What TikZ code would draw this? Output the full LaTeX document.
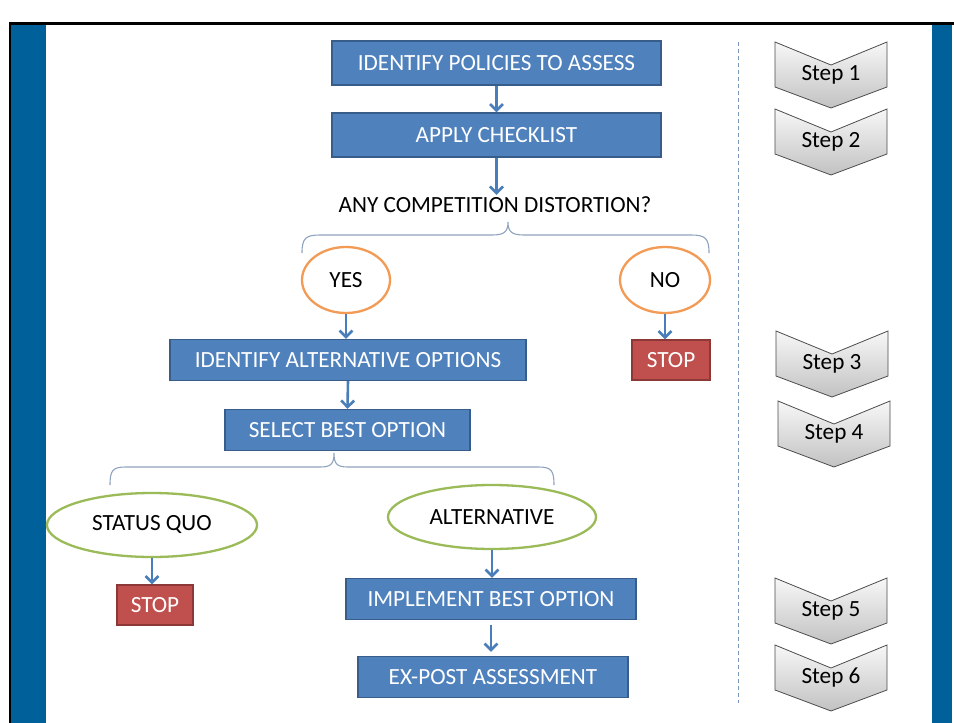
\documentclass[tikz,border=0pt]{standalone}
\usepackage{fontspec}
\setmainfont{Carlito}
\usetikzlibrary{arrows.meta,shapes.geometric}
\definecolor{boxblue}{HTML}{4F81BD}
\definecolor{boxedge}{HTML}{385D8A}
\definecolor{stopred}{HTML}{C0504D}
\definecolor{stopedge}{HTML}{8C3836}
\definecolor{ellorange}{HTML}{F39A55}
\definecolor{ellgreen}{HTML}{9BBB59}
\definecolor{bracecol}{HTML}{8FA3BF}
\definecolor{arrowblue}{HTML}{4A7EBB}
\definecolor{dashcol}{HTML}{7A96B8}
\definecolor{barblue}{HTML}{00609A}
\begin{document}
\begin{tikzpicture}[x=1pt,y=-1pt,
  txt/.style={font=\fontsize{23.2}{27}\selectfont},
  box/.style={txt, draw=boxedge, fill=boxblue, line width=1.3pt, text=white, inner sep=0pt, minimum height=41pt},
  stopbox/.style={txt, draw=stopedge, fill=stopred, line width=1.3pt, text=white, inner sep=0pt, minimum height=40pt},
  oval/.style={txt, ellipse, draw, fill=white, line width=2.3pt, inner sep=0pt},
  arr/.style={draw=arrowblue, line width=2.6pt, -{Straight Barb[length=6.5pt,width=13pt]}},
  brace/.style={draw=bracecol, line width=1.1pt},
  chev/.style={draw=gray!60!black, line width=0.8pt, top color=gray!6, bottom color=gray!48},
  steptxt/.style={txt, inner sep=0pt}]
\useasboundingbox (0,0) rectangle (954,723);
% frame
\fill[white] (0,0) rectangle (954,723);
\fill[black] (9,22) rectangle (954,25);
\fill[black] (9,22) rectangle (11,723);
\fill[barblue] (11,25) rectangle (46,723);
\fill[barblue] (932,25) rectangle (952,723);
% dashed separator
\coordinate (dtop) at (738,42);
\coordinate (dbot) at (738,703);
\draw[dashcol, line width=1pt, dash pattern=on 4pt off 3pt] (dtop) -- (dbot);
% main flow
\node[box, minimum width=329pt, minimum height=44pt] (identify) at (496.5,63) {IDENTIFY POLICIES TO ASSESS};
\node[box, minimum width=329pt, minimum height=44pt] (apply) at (496.5,135) {APPLY CHECKLIST};
\node[txt, inner sep=2pt] (question) at (495,205) {ANY COMPETITION DISTORTION?};
\node[oval, draw=ellorange, minimum width=88pt, minimum height=66pt] (yes) at (346,280) {YES};
\node[oval, draw=ellorange, minimum width=90pt, minimum height=66pt] (no) at (665,280) {NO};
\node[box, minimum width=356pt] (idalt) at (348,360) {IDENTIFY ALTERNATIVE OPTIONS};
\node[stopbox, minimum width=78pt] (stopa) at (671,360) {STOP};
\node[box, minimum width=245pt] (select) at (347.5,430) {SELECT BEST OPTION};
\node[oval, draw=ellgreen, minimum width=210pt, minimum height=64pt] (status) at (152,525) {STATUS QUO};
\node[oval, draw=ellgreen, minimum width=208pt, minimum height=64pt] (altern) at (492,517) {ALTERNATIVE};
\node[stopbox, minimum width=76pt] (stopb) at (155,605) {STOP};
\node[box, minimum width=290pt] (implement) at (491,599) {IMPLEMENT BEST OPTION};
\node[box, minimum width=270pt] (expost) at (493,677) {EX-POST ASSESSMENT};
% braces
\draw[brace] (302,253) .. controls (302,238) and (306,235) .. (320,235) -- (492,235)
  .. controls (504,235) and (508,232) .. (508,222)
  .. controls (508,232) and (512,235) .. (524,235) -- (691,235)
  .. controls (705,235) and (709,238) .. (709,253);
\draw[brace] (110,485) .. controls (110,470) and (113,467) .. (126,467) -- (320,467)
  .. controls (331,467) and (334,464) .. (334,453)
  .. controls (334,464) and (337,467) .. (348,467) -- (538,467)
  .. controls (551,467) and (554,470) .. (554,485);
% arrows
\draw[arr] (identify.south) -- (apply.north);
\draw[arr] (apply.south) -- (apply.south |- question.north);
\draw[arr] (yes.south) -- (yes.south |- idalt.north);
\draw[arr] (no.south) -- (no.south |- stopa.north);
\draw[arr] (idalt.south) -- (select.north);
\draw[arr] (status.south) -- (status.south |- stopb.north);
\draw[arr] (altern.south) -- (altern.south |- implement.north);
\draw[arr, shorten <=5pt, shorten >=4pt] (implement.south) -- (implement.south |- expost.north);
% steps
\foreach \n/\cx/\cy/\t in {s1/831/75/1, s2/831/142/2, s3/832/364/3, s4/834/434/4, s5/831/611/5, s6/831/678/6}{
  \draw[chev] ({\cx-56},{\cy-33}) -- (\cx,{\cy-10}) -- ({\cx+56},{\cy-33}) -- ({\cx+56},{\cy+12}) -- (\cx,{\cy+33}) -- ({\cx-56},{\cy+12}) -- cycle;
  \node[steptxt] (\n) at (\cx,\cy) {Step \t};
}
\end{tikzpicture}
\end{document}
